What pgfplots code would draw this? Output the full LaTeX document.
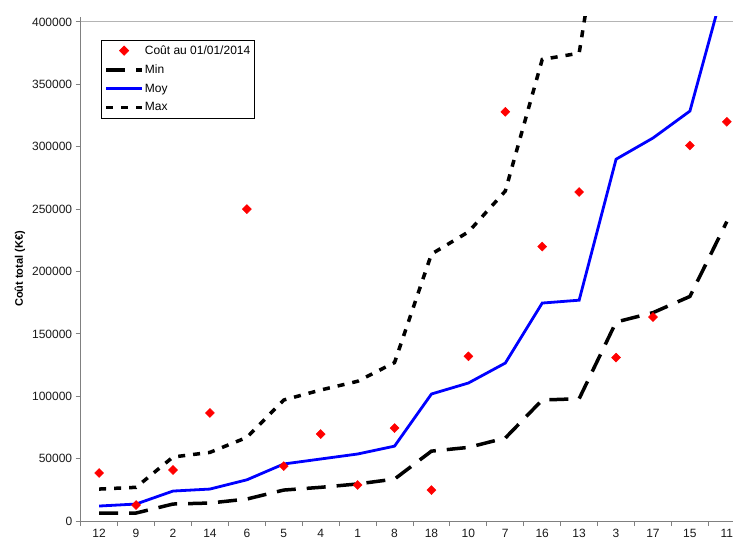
\documentclass[border=0pt]{standalone}
\usepackage{fontspec}
\setmainfont{Liberation Sans}
\usepackage{pgfplots}
\pgfplotsset{compat=1.18}

\definecolor{exred}{RGB}{255,0,0}
\definecolor{exblue}{RGB}{0,0,255}
\definecolor{axgray}{RGB}{128,128,128}
\definecolor{topgray}{RGB}{180,180,180}

\pgfplotsset{
  lineleg/.style={legend image code/.code={\draw[##1] (0bp,0bp) -- (36bp,0bp);}},
  markleg/.style={legend image code/.code={\draw[mark repeat=2,mark phase=2,##1] plot coordinates {(0bp,0bp) (18bp,0bp) (36bp,0bp)};}},
}

\begin{document}
\begin{tikzpicture}
\useasboundingbox (-80.7bp,-21bp) rectangle (652.3bp,521bp);
\begin{axis}[
    scale only axis,
    width=664.6bp, height=504bp,
    xmin=-0.5, xmax=17.5,
    ymin=0, ymax=404008,
    axis x line*=bottom,
    axis y line*=left,
    axis line style={draw=axgray, line width=1bp},
    x axis line style={-}, y axis line style={-},
    xtick={0,...,17},
    xticklabels={12,9,2,14,6,5,4,1,8,18,10,7,16,13,3,17,15,11},
    x tick style={draw=none},
    minor xtick={-0.5,0.5,...,16.5},
    minor x tick style={draw=axgray, line width=1bp},
    minor tick length=5bp,
    ytick={0,50000,...,400000},
    y tick style={draw=axgray, line width=1bp},
    major tick length=5bp,
    tick align=outside,
    scaled y ticks=false,
    yticklabel style={/pgf/number format/fixed, /pgf/number format/1000 sep={}},
    /pgf/number format/assume math mode=true,
    tick label style={font=\fontsize{12bp}{14bp}\selectfont, text=black!90},
    ylabel={Coût total (K€)},
    ylabel style={at={(axis description cs:0,0.5)}, anchor=center, yshift=60.7bp,
                  font=\fontsize{11bp}{13bp}\selectfont\bfseries},
    legend style={at={(rel axis cs:0.0305,0.955)}, anchor=north west,
                  draw=black, line width=0.8bp, inner xsep=3bp, inner ysep=1bp,
                  font=\fontsize{12bp}{14bp}\selectfont,
                  nodes={inner xsep=1bp, inner ysep=4.5bp},
                  row sep=0bp},
    legend cell align=left,
]
\draw[topgray, line width=1bp] (axis cs:-0.5,400000) -- (axis cs:17.5,400000);

\addplot[only marks, mark=square*, mark size=3.2bp, color=exred,
    mark options={rotate=45}, markleg]
coordinates {
(0,38500) (1,12800) (2,40900) (3,86600) (4,250000) (5,44000)
(6,69700) (7,28900) (8,74500) (9,24800) (10,132000) (11,328000)
(12,220000) (13,263700) (14,131000) (15,163500) (16,301000) (17,320000)
};
\addlegendentry{Coût au 01/01/2014}

\addplot[black, line width=3.5bp, dash pattern=on 19bp off 11bp, mark=none, lineleg]
coordinates {
(0,6400) (1,6400) (2,13600) (3,14400) (4,17600) (5,24800)
(6,27000) (7,29700) (8,33600) (9,56000) (10,59000) (11,66500)
(12,97000) (13,98000) (14,159500) (15,167000) (16,180000) (17,240000)
};
\addlegendentry{Min}

\addplot[exblue, line width=2.8bp, mark=none, lineleg]
coordinates {
(0,12000) (1,13600) (2,24000) (3,25600) (4,33000) (5,45700)
(6,49700) (7,53700) (8,60000) (9,101800) (10,110600) (11,126600)
(12,174700) (13,177000) (14,290000) (15,307000) (16,328600) (17,437000)
};
\addlegendentry{Moy}

\addplot[black, line width=3.5bp, dash pattern=on 7bp off 8bp, mark=none, lineleg]
coordinates {
(0,25600) (1,27000) (2,51300) (3,55000) (4,67000) (5,97000)
(6,105000) (7,112000) (8,127000) (9,214000) (10,231700) (11,264500)
(12,370000) (13,375000) (14,560000) (15,580000) (16,600000) (17,650000)
};
\addlegendentry{Max}
\end{axis}
\end{tikzpicture}
\end{document}
